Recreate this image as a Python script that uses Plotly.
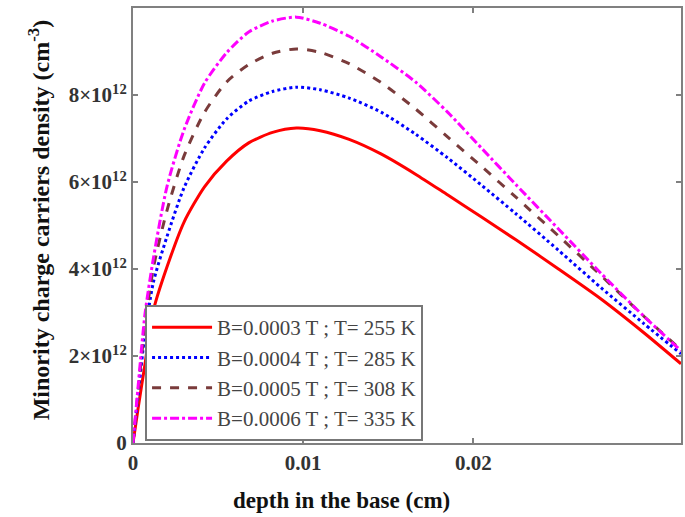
import numpy as np
import plotly.graph_objects as go

# depth in the base (cm)
depth = [0, 0.0003, 0.0007, 0.0012, 0.002, 0.003, 0.0042, 0.0055, 0.0068, 0.0082,
         0.0096, 0.011, 0.0127, 0.0146, 0.0166, 0.0185, 0.0205, 0.0225, 0.025,
         0.0275, 0.03, 0.0322]

# minority charge carriers density, in units of 1e12 cm^-3
dens_255 = [0, 0.8, 1.8, 3.05, 4.05, 5.08, 5.89, 6.48, 6.9, 7.14, 7.24, 7.18, 6.98,
            6.64, 6.18, 5.7, 5.19, 4.67, 4.0, 3.31, 2.54, 1.82]
dens_285 = [0, 1.1, 2.5, 3.7, 4.75, 5.87, 6.78, 7.45, 7.86, 8.08, 8.18, 8.12,
            7.93, 7.6, 7.1, 6.55, 5.92, 5.27, 4.43, 3.57, 2.75, 2.05]
dens_308 = [0, 1.2, 2.7, 4.03, 5.35, 6.6, 7.6, 8.3, 8.7, 8.96, 9.06, 8.98, 8.72,
            8.28, 7.68, 7.03, 6.35, 5.65, 4.76, 3.85, 2.92, 2.14]
dens_335 = [0, 1.3, 2.95, 4.25, 5.9, 7.2, 8.27, 8.97, 9.45, 9.7, 9.79, 9.65,
            9.35, 8.87, 8.3, 7.6, 6.77, 5.94, 4.92, 3.9, 2.92, 2.12]

labels = ["B=0.0003 T ; T= 255 K", "B=0.0004 T ; T= 285 K",
          "B=0.0005 T ; T= 308 K", "B=0.0006 T ; T= 335 K"]
colors = ["#ff0000", "#0000ff", "#7a3b3b", "#ff00ff"]
dashes = ["solid", "dot", "dash", "dashdot"]
series = [dens_255, dens_285, dens_308, dens_335]

xticks = [0, 0.01, 0.02]
xticktext = ["0", "0.01", "0.02"]
yticks = [0, 2e12, 4e12, 6e12, 8e12]
yticktext = ["0", "2×10<sup>12</sup>", "4×10<sup>12</sup>", "6×10<sup>12</sup>", "8×10<sup>12</sup>"]

SERIF = "Liberation Serif"

fig = go.Figure()
for lab, col, dsh, ys in zip(labels, colors, dashes, series):
    fig.add_trace(go.Scatter(
        x=depth, y=np.array(ys) * 1e12, mode="lines", name=lab,
        line=dict(color=col, dash=dsh, width=3, shape="spline", smoothing=0.7),
    ))

axis_common = dict(
    showgrid=False, zeroline=False, showline=True, linecolor="#808080",
    linewidth=2, mirror="ticks", ticks="inside", ticklen=5, tickcolor="#808080",
    tickwidth=1.5,
    tickfont=dict(family=SERIF, size=21, color="#333333"),
)

fig.update_xaxes(range=[0, 0.0322], tickvals=xticks,
                 ticktext=["<b>%s</b>" % t for t in xticktext], **axis_common)
fig.update_yaxes(range=[0, 1e13], tickvals=yticks,
                 ticktext=["<b>%s</b>" % t for t in yticktext], **axis_common)

fig.update_layout(
    width=685, height=517,
    margin=dict(l=133, r=2, t=8, b=74),
    paper_bgcolor="white", plot_bgcolor="white",
    showlegend=True,
    legend=dict(
        x=0.022, y=0.317, xanchor="left", yanchor="top",
        bgcolor="white", bordercolor="#777777", borderwidth=2,
        font=dict(family=SERIF, size=21, color="#444444"),
        tracegroupgap=0, itemwidth=60,
    ),
    annotations=[
        dict(text="<b>depth in the base (cm)</b>", xref="paper", yref="paper",
             x=(342 - 133) / 550, y=-(500 - 443) / 435, xanchor="center", yanchor="middle",
             showarrow=False, font=dict(family=SERIF, size=23, color="#111111")),
        dict(text="<b>Minority charge carriers density (cm<sup>-3</sup>)</b>",
             xref="paper", yref="paper", x=-(133 - 39) / 550, y=(443 - 220) / 435,
             xanchor="center", yanchor="middle", textangle=-90, showarrow=False,
             font=dict(family=SERIF, size=24, color="#111111")),
    ],
)

fig.write_html("out.html")
